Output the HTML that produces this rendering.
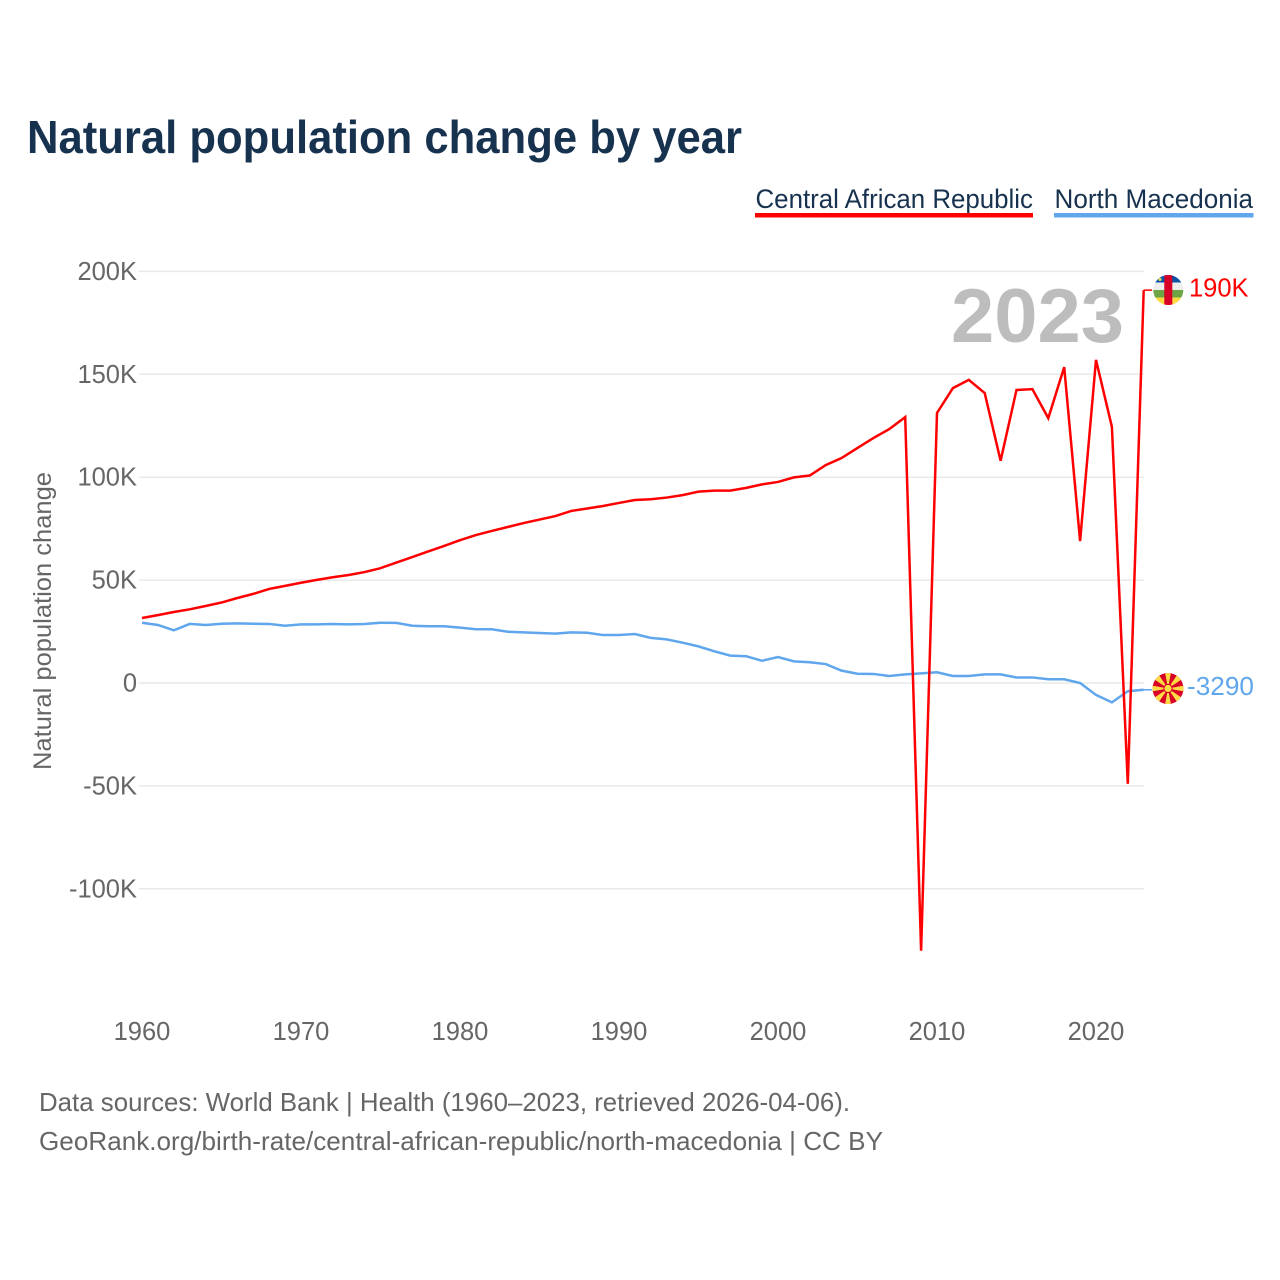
<!DOCTYPE html>
<html lang="en">
<head>
<meta charset="utf-8">
<title>Natural population change by year</title>
<style>
html,body{margin:0;padding:0;background:#fff;}
svg{display:block;font-family:"Liberation Sans",sans-serif;}
</style>
</head>
<body>
<svg id="chart" xmlns="http://www.w3.org/2000/svg" width="1280" height="1280" viewBox="0 0 1280 1280">
  <rect width="1280" height="1280" fill="#fff"/>
  <text x="27" y="153" font-size="46" font-weight="700" fill="#17324f" textLength="715" lengthAdjust="spacingAndGlyphs">Natural population change by year</text>

  <g>
    <text x="755.5" y="208" font-size="27" fill="#17324f" textLength="277.5" lengthAdjust="spacingAndGlyphs">Central African Republic</text>
    <rect x="755" y="213" width="278" height="4.5" fill="#ff0000"/>
  </g>
  <g>
    <text x="1054.5" y="208" font-size="27" fill="#17324f" textLength="198.5" lengthAdjust="spacingAndGlyphs">North Macedonia</text>
    <rect x="1054" y="213" width="199.5" height="4.5" fill="#5fa6ec"/>
  </g>

  <g id="grid"></g>
  <g id="yticks"></g>
  <g id="xticks"></g>

  <text transform="translate(51,621) rotate(-90)" text-anchor="middle" font-size="25" fill="#666" textLength="298" lengthAdjust="spacingAndGlyphs">Natural population change</text>

  <text x="951" y="342" font-size="76" font-weight="700" fill="#bdbdbd" textLength="173" lengthAdjust="spacingAndGlyphs">2023</text>

  <g id="series"></g>

  <g>
    <clipPath id="clip-caf"><circle cx="1168.3" cy="290" r="15"/></clipPath>
    <g clip-path="url(#clip-caf)">
      <rect x="1153" y="275" width="31" height="7.5" fill="#0a55a8"/>
      <rect x="1153" y="282.5" width="31" height="7.5" fill="#eeeeee"/>
      <rect x="1153" y="290" width="31" height="7.5" fill="#6da544"/>
      <rect x="1153" y="297.5" width="31" height="7.5" fill="#ffda44"/>
      <rect x="1164.3" y="275" width="8" height="30" fill="#d80027"/>
      <circle cx="1160" cy="279.5" r="1.5" fill="#ffda44"/>
    </g>
  </g>
  <text id="label-caf" x="1189" y="296.5" font-size="25.5" fill="#ff0000"></text>

  <g>
    <clipPath id="clip-mkd"><circle cx="1168" cy="688.5" r="15.5"/></clipPath>
    <g clip-path="url(#clip-mkd)">
      <rect x="1152" y="673" width="32" height="32" fill="#d80027"/>
      <g fill="#ffda44">
        <polygon points="1168,688.5 1165,672.5 1171,672.5"/>
        <polygon points="1168,688.5 1165,704.5 1171,704.5"/>
        <polygon points="1168,688.5 1152,685.5 1152,691.5"/>
        <polygon points="1168,688.5 1184,685.5 1184,691.5"/>
        <polygon points="1168,688.5 1154.7,679.6 1159.1,675.2"/>
        <polygon points="1168,688.5 1176.9,675.2 1181.3,679.6"/>
        <polygon points="1168,688.5 1154.7,697.4 1159.1,701.8"/>
        <polygon points="1168,688.5 1176.9,701.8 1181.3,697.4"/>
      </g>
      <circle cx="1168" cy="688.5" r="4.6" fill="#d80027"/>
      <circle cx="1168" cy="688.5" r="3.6" fill="#ffda44"/>
    </g>
  </g>
  <text id="label-mkd" x="1187" y="695" font-size="25.5" fill="#5fa6ec" textLength="67" lengthAdjust="spacingAndGlyphs"></text>

  <text x="39" y="1111" font-size="26" fill="#666" textLength="811" lengthAdjust="spacingAndGlyphs">Data sources: World Bank | Health (1960–2023, retrieved 2026-04-06).</text>
  <text x="39" y="1150" font-size="26" fill="#666" textLength="844" lengthAdjust="spacingAndGlyphs">GeoRank.org/birth-rate/central-african-republic/north-macedonia | CC BY</text>
</svg>
<script>
const yTickValues = [200000, 150000, 100000, 50000, 0, -50000, -100000];
const yTickLabels = ["200K", "150K", "100K", "50K", "0", "-50K", "-100K"];
const xTickYears = [1960, 1970, 1980, 1990, 2000, 2010, 2020];
const firstYear = 1960;
const centralAfricanRepublic = [
  31600, 33000, 34500, 35800, 37400, 39100, 41300, 43300, 45700, 47200,
  48700, 50100, 51400, 52500, 53900, 55800, 58500, 61200, 63900, 66600,
  69400, 71900, 73900, 75800, 77700, 79400, 81100, 83600, 84800, 86000,
  87500, 88900, 89300, 90100, 91300, 93000, 93500, 93500, 94800, 96500,
  97700, 99900, 100800, 105900, 109300, 114200, 119000, 123400, 129200, -130100,
  131200, 143300, 147300, 140900, 108000, 142400, 142800, 128700, 153500, 69000,
  157000, 124500, -49000, 190900
];
const northMacedonia = [
  29300, 28200, 25600, 28700, 28200, 28800, 29000, 28800, 28700, 27800,
  28500, 28500, 28700, 28500, 28700, 29300, 29200, 27800, 27600, 27600,
  26900, 26100, 26100, 24900, 24600, 24300, 24000, 24600, 24400, 23300,
  23300, 23800, 21900, 21200, 19600, 17800, 15400, 13300, 13000, 10800,
  12600, 10500, 10100, 9200, 6000, 4500, 4400, 3400, 4200, 4700,
  5200, 3400, 3400, 4200, 4200, 2700, 2700, 1800, 1800, 0,
  -5800, -9400, -4000, -3290
];
const endLabelCaf = "190K";
const endLabelMkd = "-3290";

const SVG_NS = "http://www.w3.org/2000/svg";
function xScale(year) { return 142 + (year - 1960) * 15.9; }
function yScale(value) { return 683 - value * 0.002058; }
function pointsFor(series) {
  return series.map(function (v, i) {
    return xScale(firstYear + i).toFixed(2) + "," + yScale(v).toFixed(2);
  }).join(" ");
}

const grid = document.getElementById("grid");
const yticks = document.getElementById("yticks");
const xticks = document.getElementById("xticks");
const seriesGroup = document.getElementById("series");

yTickValues.forEach(function (v, i) {
  const line = document.createElementNS(SVG_NS, "line");
  
  
  line.setAttribute("x1", xScale(1960) - 3);
  line.setAttribute("x2", xScale(2023) + 0.5);
  line.setAttribute("y1", yScale(v));
  line.setAttribute("y2", yScale(v));
  line.setAttribute("stroke", "#e9e9e9");
  line.setAttribute("stroke-width", "1.5");
  grid.appendChild(line);

  const t = document.createElementNS(SVG_NS, "text");
  
  
  t.setAttribute("x", 137);
  t.setAttribute("y", yScale(v) + 8.5);
  t.setAttribute("text-anchor", "end");
  t.setAttribute("font-size", "25.5");
  t.setAttribute("fill", "#666");
  t.textContent = yTickLabels[i];
  yticks.appendChild(t);
});

xTickYears.forEach(function (year) {
  const t = document.createElementNS(SVG_NS, "text");
  
  
  t.setAttribute("x", xScale(year));
  t.setAttribute("y", 1040);
  t.setAttribute("text-anchor", "middle");
  t.setAttribute("font-size", "25.5");
  t.setAttribute("fill", "#666");
  t.textContent = String(year);
  xticks.appendChild(t);
});

function drawSeries(values, color, seriesName) {
  const line = document.createElementNS(SVG_NS, "polyline");
  
  
  line.setAttribute("points", pointsFor(values));
  line.setAttribute("fill", "none");
  line.setAttribute("stroke", color);
  line.setAttribute("stroke-width", "2.5");
  line.setAttribute("stroke-linejoin", "miter");
  seriesGroup.appendChild(line);

  const lastY = yScale(values[values.length - 1]);
  const connector = document.createElementNS(SVG_NS, "line");
  
  
  connector.setAttribute("x1", xScale(2023));
  connector.setAttribute("x2", 1152);
  connector.setAttribute("y1", lastY);
  connector.setAttribute("y2", lastY);
  connector.setAttribute("stroke", color);
  connector.setAttribute("stroke-width", "1.5");
  seriesGroup.appendChild(connector);
}
drawSeries(northMacedonia, "#5fa6ec", "line-north-macedonia");
drawSeries(centralAfricanRepublic, "#ff0000", "line-central-african-republic");

document.getElementById("label-caf").textContent = endLabelCaf;
document.getElementById("label-mkd").textContent = endLabelMkd;
</script>
</body>
</html>
